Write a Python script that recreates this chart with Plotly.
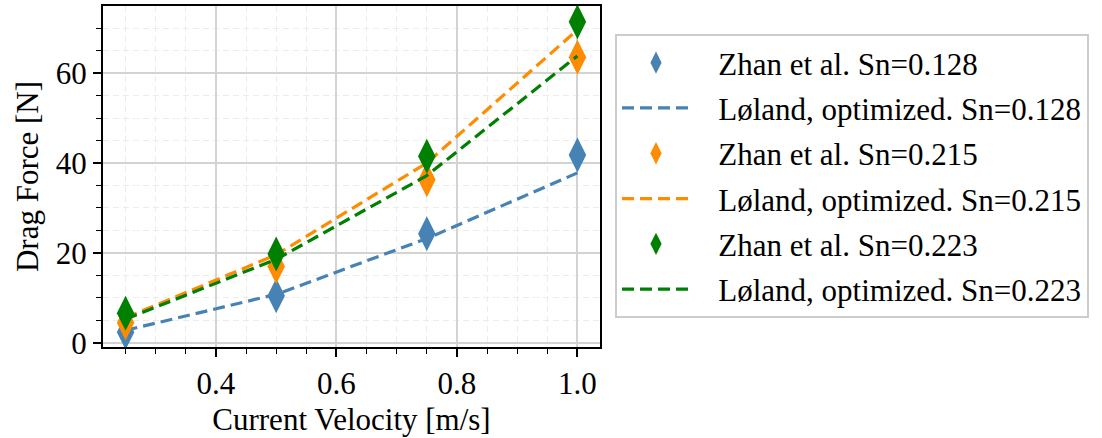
import plotly.graph_objects as go

velocity = [0.25, 0.5, 0.75, 1.0]
sn_labels = ["0.128", "0.215", "0.223"]
zhan_values = {
    "0.128": [2.4, 10.5, 24.3, 41.8],
    "0.215": [4.5, 17.0, 36.3, 63.5],
    "0.223": [6.6, 19.8, 41.5, 71.4],
}
loland_values = {
    "0.128": [2.8, 10.8, 23.2, 37.8],
    "0.215": [5.6, 19.6, 40.0, 69.6],
    "0.223": [5.3, 18.6, 37.2, 63.8],
}
colors = {"0.128": "#4682B4", "0.215": "#FF8C00", "0.223": "#008000"}

FONT = "Times New Roman"
W, H = 1102, 438
L, R, T, B = 103, 502, 6, 91
PAD = "\u00a0\u00a0\u00a0"

fig = go.Figure()
for i, sn in enumerate(sn_labels):
    c = colors[sn]
    fig.add_trace(go.Scatter(
        x=velocity, y=zhan_values[sn], mode="markers",
        marker=dict(symbol="diamond-tall", size=25, color=c, line=dict(width=0)),
        name=f"{PAD}Zhan et al. Sn={sn}", legendgroup=f"z{sn}",
    ))
    fig.add_trace(go.Scatter(
        x=velocity, y=loland_values[sn], mode="lines",
        line=dict(color=c, width=3.2, dash="12px,6px"),
        name=f"{PAD}Løland, optimized. Sn={sn}", legendgroup=f"l{sn}",
    ))

axis_common = dict(
    showline=True, linecolor="black", linewidth=2, mirror=True,
    ticks="outside", ticklen=8, tickwidth=1.5, tickcolor="black",
    showgrid=True, gridcolor="#d3d3d3", gridwidth=1.5,
    zeroline=False,
    tickfont=dict(family=FONT, size=31, color="black"),
)

fig.update_xaxes(
    range=[0.2125, 1.0375], tickvals=[0.4, 0.6, 0.8, 1.0], ticktext=["0.4", "0.6", "0.8", "1.0"],
    title=dict(text="Current Velocity [m/s]", font=dict(family=FONT, size=31, color="black"), standoff=8),
    minor=dict(dtick=0.05, tick0=0.0, ticks="outside", ticklen=5, tickwidth=1.2, tickcolor="black",
               showgrid=True, gridcolor="#ececec", gridwidth=1, griddash="6px,4px"),
    **axis_common,
)
fig.update_yaxes(
    range=[-0.9, 74.9], tickvals=[0, 20, 40, 60],
    title=dict(text="Drag Force [N]", font=dict(family=FONT, size=31, color="black"), standoff=8),
    minor=dict(dtick=5, tick0=0, ticks="outside", ticklen=5, tickwidth=1.2, tickcolor="black",
               showgrid=True, gridcolor="#ececec", gridwidth=1, griddash="6px,4px"),
    **axis_common,
)

pw = W - L - R
ph = H - T - B
fig.update_layout(
    width=W, height=H,
    margin=dict(l=L, r=R, t=T, b=B, autoexpand=False),
    plot_bgcolor="white", paper_bgcolor="white",
    font=dict(family=FONT, size=31, color="black"),
    legend=dict(
        x=(615 - L) / pw, y=(H - B - 34) / ph, xanchor="left", yanchor="top",
        bgcolor="white", bordercolor="#cccccc", borderwidth=2,
        font=dict(family=FONT, size=31, color="black"),
        traceorder="grouped", tracegroupgap=2, itemwidth=68,
    ),
    showlegend=True,
)

fig.write_html("out.html")
